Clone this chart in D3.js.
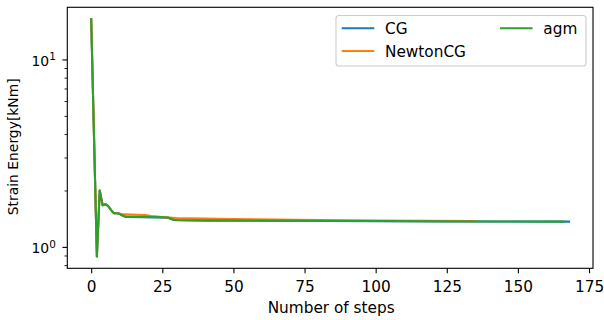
<!DOCTYPE html>
<html>
<head>
<meta charset="utf-8">
<script src="https://cdn.jsdelivr.net/npm/d3@7"></script>
<style>
  body { margin: 0; background: #fff; }
  svg { display: block; font-family: "DejaVu Sans", sans-serif; }
</style>
</head>
<body>
<svg id="chart" width="604" height="320"></svg>
<script>
// values (step, strain energy)
const cgSteps = [0, 1, 2, 3, 4, 5, 6, 7, 8, 9, 10, 11, 12, 18, 24, 27, 29, 30, 40, 60, 80, 100, 120, 140, 168];
const cgValues = [16.5, 3.85, 0.895, 2.01, 1.68, 1.70, 1.66, 1.58, 1.52, 1.52, 1.51, 1.48, 1.455, 1.45, 1.445, 1.44, 1.40, 1.395, 1.39, 1.387, 1.383, 1.38, 1.377, 1.374, 1.372];

const newtonSteps = [0, 1, 2, 3, 4, 5, 6, 7, 8, 9, 10, 11, 12, 19, 21, 25, 30, 50, 80, 100, 135];
const newtonValues = [16.5, 3.85, 0.895, 2.01, 1.68, 1.70, 1.66, 1.58, 1.52, 1.52, 1.51, 1.50, 1.50, 1.49, 1.47, 1.45, 1.435, 1.415, 1.40, 1.39, 1.383];

const agmSteps = [0, 1, 2, 3, 4, 5, 6, 7, 8, 9, 10, 11, 12, 18, 24, 27, 29, 30, 40, 60, 80, 100, 120, 140, 166];
const agmValues = [16.5, 3.85, 0.895, 2.01, 1.68, 1.70, 1.66, 1.58, 1.52, 1.52, 1.51, 1.48, 1.46, 1.455, 1.45, 1.445, 1.405, 1.40, 1.395, 1.39, 1.385, 1.382, 1.378, 1.375, 1.372];

const xTicks = [0, 25, 50, 75, 100, 125, 150, 175];
const yMajor = [1, 10];
const yMinor = [0.8, 0.9, 2, 3, 4, 5, 6, 7, 8, 9];

const seriesNames = ["CG", "NewtonCG", "agm"];
const seriesColors = ["#1f77b4", "#ff7f0e", "#2ca02c"];

const series = [
  { name: seriesNames[0], color: seriesColors[0], pts: cgSteps.map((s, i) => [s, cgValues[i]]) },
  { name: seriesNames[1], color: seriesColors[1], pts: newtonSteps.map((s, i) => [s, newtonValues[i]]) },
  { name: seriesNames[2], color: seriesColors[2], pts: agmSteps.map((s, i) => [s, agmValues[i]]) }
];

const svg = d3.select("#chart");
const mLeft = 67.3, mRight = 593, mTop = 7.3, mBottom = 268.3;
const fs = 13.9;     // y side
const fsBig = 15.3;  // x ticks, x label, legend

// axis limits like matplotlib's 5% margins
const all = series.flatMap(s => s.pts);
const xMin = d3.min(all, d => d[0]), xMax = d3.max(all, d => d[0]);
const xPad = (xMax - xMin) * 0.05;
const lyMin = Math.log10(d3.min(all, d => d[1])), lyMax = Math.log10(d3.max(all, d => d[1]));
const lyPad = (lyMax - lyMin) * 0.05;

const x = d3.scaleLinear().domain([xMin - xPad, xMax + xPad]).range([mLeft, mRight]);
const y = d3.scaleLog().domain([Math.pow(10, lyMin - lyPad), Math.pow(10, lyMax + lyPad)]).range([mBottom, mTop]);

const line = d3.line().x(d => x(d[0])).y(d => y(d[1]));

const plot = svg.append("g");
plot.append("clipPath").attr("id", "clip")
  .append("rect").attr("x", mLeft).attr("y", mTop).attr("width", mRight - mLeft).attr("height", mBottom - mTop);

plot.selectAll("path.series")
  .data(series)
  .enter()
  .append("path")
  .attr("class", "series")
  .attr("clip-path", "url(#clip)")
  .attr("d", d => line(d.pts))
  .attr("fill", "none")
  .attr("stroke", d => d.color)
  .attr("stroke-width", 2.08)
  .attr("stroke-linejoin", "round")
  .attr("stroke-linecap", "square");

// x axis
const xAxis = svg.append("g").attr("transform", "translate(0," + mBottom + ")")
  .call(d3.axisBottom(x).tickValues(xTicks).tickSize(4.9).tickPadding(4.9).tickFormat(d3.format("d")));
xAxis.select(".domain").remove();
xAxis.selectAll("line").attr("stroke", "#000").attr("stroke-width", 1.1);
xAxis.selectAll("text")
  .attr("y", 24).attr("dy", null)
  .attr("font-size", fsBig).attr("fill", "#000").attr("font-family", "DejaVu Sans");

// y axis, log
const yAxis = svg.append("g").attr("transform", "translate(" + mLeft + ",0)");
yAxis.selectAll("line.minor")
  .data(yMinor.filter(v => v >= y.domain()[0] && v <= y.domain()[1]))
  .enter().append("line")
  .attr("x1", -2.8).attr("x2", 0)
  .attr("y1", d => y(d)).attr("y2", d => y(d))
  .attr("stroke", "#000").attr("stroke-width", 0.85);
yAxis.selectAll("line.major")
  .data(yMajor)
  .enter().append("line")
  .attr("x1", -4.9).attr("x2", 0)
  .attr("y1", d => y(d)).attr("y2", d => y(d))
  .attr("stroke", "#000").attr("stroke-width", 1.1);
const yl = yAxis.selectAll("text.major")
  .data(yMajor)
  .enter().append("text")
  .attr("x", -11.5)
  .attr("y", d => y(d) + 5.8)
  .attr("text-anchor", "end")
  .attr("font-size", fs)
  .attr("fill", "#000");
yl.append("tspan").text("10");
yl.append("tspan").attr("dy", -5.5).attr("font-size", fs * 0.75).text(d => Math.round(Math.log10(d)));

// frame
svg.append("rect")
  .attr("x", mLeft).attr("y", mTop)
  .attr("width", mRight - mLeft).attr("height", mBottom - mTop)
  .attr("fill", "none").attr("stroke", "#000").attr("stroke-width", 1.1);

// labels
svg.append("text")
  .attr("x", (mLeft + mRight) / 2 + 1).attr("y", 312.7)
  .attr("text-anchor", "middle").attr("font-size", fsBig).attr("fill", "#000")
  .text("Number of steps");
svg.append("text")
  .attr("transform", "translate(17.8," + ((mTop + mBottom) / 2 + 9) + ") rotate(-90)")
  .attr("text-anchor", "middle").attr("font-size", fs).attr("fill", "#000")
  .text("Strain Energy[kNm]");

// legend
const lg = svg.append("g");
lg.append("rect")
  .attr("x", 336).attr("y", 15.5).attr("width", 250).attr("height", 50.5)
  .attr("rx", 3).attr("fill", "#fff").attr("fill-opacity", 0.8)
  .attr("stroke", "#cccccc").attr("stroke-width", 1.1);
const legendPos = [[341.7, 28.3], [341.7, 51], [500, 28.3]];
series.forEach((s, i) => {
  const [lx, ly] = legendPos[i];
  lg.append("line")
    .attr("x1", lx).attr("x2", lx + 32.6).attr("y1", ly).attr("y2", ly)
    .attr("stroke", s.color).attr("stroke-width", 2.08);
  lg.append("text")
    .attr("x", lx + 43.3).attr("y", ly + 5.7)
    .attr("font-size", fsBig).attr("fill", "#000")
    .text(s.name);
});
</script>
</body>
</html>
